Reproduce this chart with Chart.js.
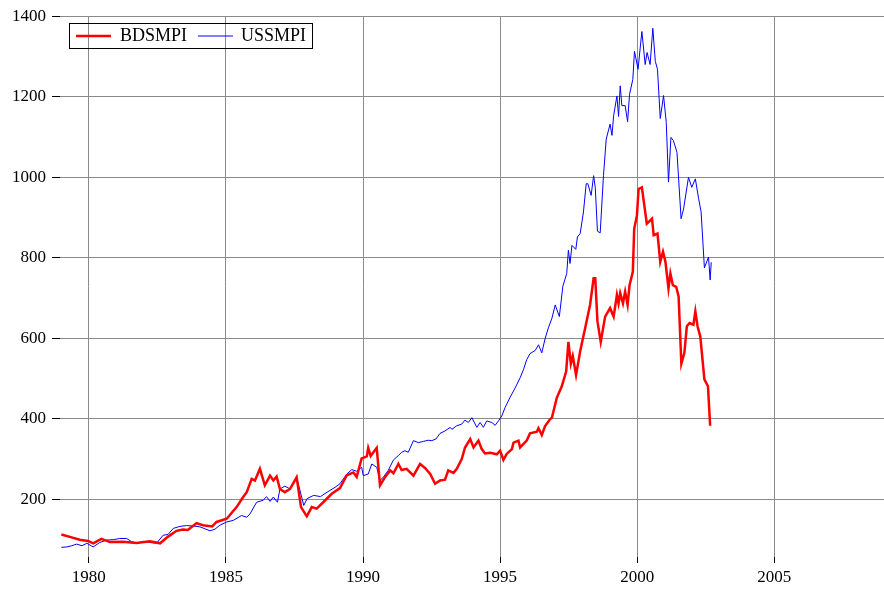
<!DOCTYPE html>
<html>
<head>
<meta charset="utf-8">
<script src="https://cdn.jsdelivr.net/npm/chart.js@4/dist/chart.umd.min.js"></script>
<style>
  html, body { margin: 0; padding: 0; background: #fff; }
  #wrap { width: 884px; height: 591px; }
</style>
</head>
<body>
<div id="wrap"><canvas id="smpiChart" width="884" height="591"></canvas></div>
<script>
// Données (dates en années décimales)
const bdDates = [
  1979.00, 1979.31, 1979.67, 1979.97, 1980.16, 1980.46, 1980.77, 1981.24, 1981.74, 1982.23,
  1982.60, 1982.88, 1983.20, 1983.43, 1983.61, 1983.93, 1984.16, 1984.50, 1984.66, 1985.03,
  1985.39, 1985.63, 1985.76, 1985.94, 1986.06, 1986.24, 1986.42, 1986.61, 1986.73, 1986.85,
  1986.97, 1987.15, 1987.34, 1987.58, 1987.74, 1987.95, 1988.13, 1988.31, 1988.55, 1988.86,
  1989.16, 1989.41, 1989.65, 1989.77, 1989.95, 1990.14, 1990.19, 1990.28, 1990.50, 1990.62,
  1990.80, 1990.99, 1991.11, 1991.29, 1991.41, 1991.59, 1991.84, 1992.08, 1992.26, 1992.45,
  1992.63, 1992.81, 1992.99, 1993.11, 1993.30, 1993.42, 1993.60, 1993.72, 1993.91, 1994.03,
  1994.21, 1994.33, 1994.45, 1994.64, 1994.88, 1995.00, 1995.12, 1995.24, 1995.43, 1995.49,
  1995.67, 1995.73, 1995.97, 1996.09, 1996.34, 1996.40, 1996.52, 1996.64, 1996.82, 1996.89,
  1997.07, 1997.25, 1997.41, 1997.49, 1997.58, 1997.65, 1997.77, 1997.92, 1998.10, 1998.28,
  1998.41, 1998.47, 1998.55, 1998.67, 1998.83, 1999.01, 1999.14, 1999.26, 1999.32, 1999.38,
  1999.48, 1999.56, 1999.65, 1999.72, 1999.84, 1999.89, 1999.99, 2000.05, 2000.17, 2000.35,
  2000.54, 2000.60, 2000.74, 2000.84, 2000.94, 2001.03, 2001.14, 2001.21, 2001.30, 2001.42,
  2001.51, 2001.61, 2001.72, 2001.81, 2001.91, 2002.05, 2002.12, 2002.20, 2002.30, 2002.45,
  2002.58, 2002.66
];
const bdValues = [
  113, 107, 100, 97, 91, 102, 94, 95, 92, 96,
  91, 107, 122, 125, 124, 141, 136, 133, 144, 152,
  181, 206, 218, 251, 247, 276, 235, 259, 247, 257,
  226, 218, 226, 255, 181, 158, 181, 177, 193, 214,
  228, 260, 267, 256, 302, 307, 328, 308, 328, 235,
  255, 272, 265, 288, 273, 276, 259, 288, 278, 263,
  239, 247, 249, 272, 266, 276, 300, 329, 350, 329,
  346, 325, 314, 316, 312, 321, 298, 313, 325, 341,
  346, 329, 346, 364, 368, 377, 360, 382, 399, 403,
  453, 481, 518, 591, 537, 556, 509, 568, 625, 683,
  749, 749, 642, 591, 654, 675, 654, 708, 687, 712,
  687, 716, 683, 732, 765, 872, 905, 971, 975, 885,
  897, 856, 860, 790, 815, 790, 724, 761, 732, 728,
  704, 537, 564, 630, 638, 634, 667, 630, 605, 498,
  481, 383
];
const usDates = [
  1979.00, 1979.20, 1979.38, 1979.56, 1979.75, 1979.93, 1980.16, 1980.40, 1980.65, 1980.89,
  1981.13, 1981.38, 1981.56, 1981.80, 1981.98, 1982.23, 1982.47, 1982.71, 1982.89, 1983.08,
  1983.32, 1983.56, 1983.81, 1984.05, 1984.42, 1984.60, 1984.78, 1985.03, 1985.27, 1985.57,
  1985.76, 1985.88, 1986.12, 1986.36, 1986.48, 1986.61, 1986.73, 1986.88, 1986.97, 1987.15,
  1987.34, 1987.58, 1987.84, 1987.96, 1988.20, 1988.45, 1988.69, 1988.98, 1989.16, 1989.41,
  1989.59, 1989.77, 1989.95, 1990.01, 1990.19, 1990.32, 1990.50, 1990.62, 1990.74, 1990.92,
  1991.11, 1991.29, 1991.41, 1991.53, 1991.65, 1991.84, 1992.02, 1992.20, 1992.38, 1992.51,
  1992.66, 1992.81, 1992.99, 1993.18, 1993.24, 1993.42, 1993.60, 1993.72, 1993.84, 1993.97,
  1994.15, 1994.27, 1994.39, 1994.51, 1994.70, 1994.82, 1994.94, 1995.06, 1995.18, 1995.36,
  1995.55, 1995.73, 1995.85, 1995.97, 1996.09, 1996.28, 1996.40, 1996.52, 1996.64, 1996.76,
  1996.89, 1997.01, 1997.16, 1997.29, 1997.43, 1997.49, 1997.55, 1997.62, 1997.76, 1997.82,
  1997.92, 1998.04, 1998.14, 1998.20, 1998.32, 1998.41, 1998.47, 1998.55, 1998.65, 1998.77,
  1998.87, 1999.01, 1999.08, 1999.14, 1999.26, 1999.32, 1999.38, 1999.44, 1999.56, 1999.65,
  1999.72, 1999.84, 1999.90, 2000.03, 2000.17, 2000.29, 2000.36, 2000.47, 2000.57, 2000.66,
  2000.74, 2000.84, 2000.96, 2001.06, 2001.14, 2001.23, 2001.32, 2001.45, 2001.60, 2001.69,
  2001.87, 2001.99, 2002.12, 2002.24, 2002.33, 2002.45, 2002.60, 2002.66, 2002.70
];
const usValues = [
  81, 82, 85, 89, 85, 91, 82, 93, 99, 100,
  103, 103, 95, 91, 96, 93, 91, 111, 113, 128,
  133, 135, 134, 132, 122, 126, 136, 144, 148, 160,
  156, 164, 193, 198, 207, 195, 206, 193, 226, 233,
  226, 255, 185, 202, 210, 207, 218, 230, 239, 263,
  274, 270, 280, 259, 263, 288, 280, 247, 255, 272,
  298, 309, 317, 321, 317, 346, 341, 344, 347, 346,
  350, 364, 370, 379, 374, 383, 387, 397, 391, 403,
  379, 391, 379, 395, 391, 384, 395, 407, 428, 453,
  477, 502, 522, 547, 562, 570, 584, 564, 599, 626,
  650, 683, 654, 730, 761, 819, 786, 831, 821, 852,
  860, 914, 984, 984, 955, 1004, 975, 866, 862, 1004,
  1095, 1132, 1104, 1153, 1202, 1151, 1227, 1178, 1178, 1138,
  1206, 1243, 1313, 1268, 1362, 1280, 1310, 1280, 1370, 1288,
  1268, 1146, 1203, 1136, 988, 1099, 1091, 1062, 897, 921,
  1000, 975, 996, 947, 914, 775, 802, 745, 789
];
const seriesNames = ['BDSMPI', 'USSMPI'];
const xTicks = [1980, 1985, 1990, 1995, 2000, 2005];
const yTicks = [200, 400, 600, 800, 1000, 1200, 1400];

const serif = 'Liberation Serif, Times New Roman, serif';

function toPoints(dates, values) {
    return dates.map((d, i) => ({ x: d, y: values[i] }));
}

// Légende encadrée, dessinée à la main
const legendBox = {
    id: 'legendBox',
    afterDraw(chart) {
        const ctx = chart.ctx;
        ctx.save();
        ctx.strokeStyle = '#000';
        ctx.lineWidth = 1;
        ctx.strokeRect(69.5, 23.5, 243, 25);
        const items = [
            { x: 76, textX: 120 },
            { x: 198, textX: 241 }
        ];
        ctx.font = '18px ' + serif;
        ctx.textBaseline = 'middle';
        ctx.fillStyle = '#000';
        chart.data.datasets.forEach((ds, i) => {
            const it = items[i];
            ctx.strokeStyle = ds.borderColor;
            ctx.lineWidth = ds.borderWidth;
            ctx.beginPath();
            ctx.moveTo(it.x, 36);
            ctx.lineTo(it.x + 35, 36);
            ctx.stroke();
            ctx.fillText(ds.label, it.textX, 36.5);
        });
        ctx.restore();
    }
};

const ctx = document.getElementById('smpiChart').getContext('2d');
const smpiChart = new Chart(ctx, {
    type: 'line',
    data: {
        datasets: [{
            label: seriesNames[0],
            data: toPoints(bdDates, bdValues),
            borderColor: '#ff0000',
            borderWidth: 2.5,
            pointRadius: 0,
            tension: 0
        }, {
            label: seriesNames[1],
            data: toPoints(usDates, usValues),
            borderColor: '#0000ff',
            borderWidth: 1,
            pointRadius: 0,
            tension: 0
        }]
    },
    options: {
        responsive: false,
        animation: false,
        layout: { padding: { top: 13, left: 0, right: 0, bottom: 0 } },
        plugins: {
            legend: { display: false },
            tooltip: { enabled: false }
        },
        scales: {
            x: {
                type: 'linear',
                min: 1978.95,
                max: 2009,
                afterBuildTicks: s => { s.ticks = xTicks.map(v => ({ value: v })); },
                afterFit: s => { s.height = 34; },
                border: { display: false },
                grid: { color: '#8a8a8a', lineWidth: 1, tickColor: '#000', tickLength: 6 },
                ticks: {
                    color: '#000',
                    padding: 4,
                    maxRotation: 0,
                    font: { family: serif, size: 17 },
                    callback: v => String(v)
                }
            },
            y: {
                min: 57,
                max: 1400,
                afterBuildTicks: s => { s.ticks = yTicks.map(v => ({ value: v })); },
                afterFit: s => { s.width = 60; },
                border: { display: false },
                grid: { color: '#8a8a8a', lineWidth: 1, tickColor: '#000', tickLength: 8 },
                ticks: {
                    color: '#000',
                    padding: 6,
                    font: { family: serif, size: 17 },
                    callback: v => String(v)
                }
            }
        }
    },
    plugins: [legendBox]
});
</script>
</body>
</html>
